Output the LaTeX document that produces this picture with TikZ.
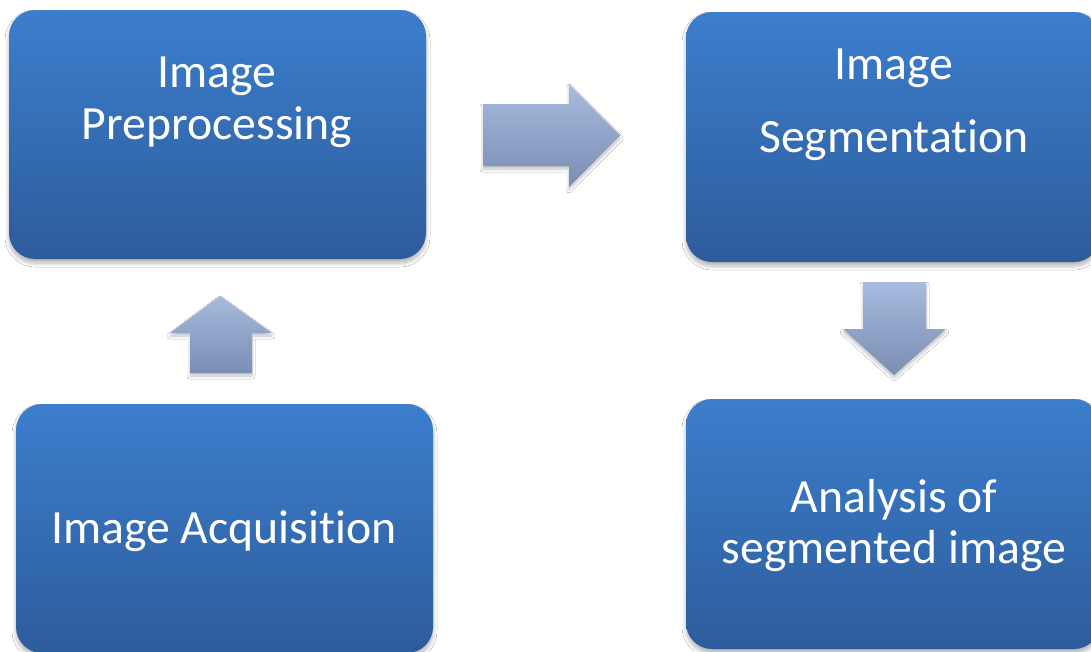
\documentclass[tikz,border=0pt]{standalone}
\usepackage{fontspec}
\setmainfont{Carlito}[Ligatures={NoCommon,NoContextual,NoRare}, Contextuals=NoAlternate]
\usetikzlibrary{shadows.blur}
\definecolor{boxtop}{HTML}{3C7ECD}
\definecolor{boxbot}{HTML}{2D5C9B}
\definecolor{arrtop}{HTML}{A6BBDE}
\definecolor{arrbot}{HTML}{7A8DB3}
\tikzset{
  stagebox/.style={rectangle, rounded corners=26pt, top color=boxtop, bottom color=boxbot,
    draw=none, inner sep=0pt,
    blur shadow={shadow xshift=0pt, shadow yshift=-4pt, shadow blur steps=8, shadow blur radius=4pt, shadow opacity=30}},
  stagetext/.style={text=white, font=\fontsize{47.7}{52}\selectfont, anchor=base, inner sep=0pt},
  blockarrow/.style={top color=arrtop, bottom color=arrbot, draw=none,
    blur shadow={shadow xshift=0pt, shadow yshift=-3pt, shadow blur steps=6, shadow blur radius=3pt, shadow opacity=25}}
}
\begin{document}
\begin{tikzpicture}[x=1pt,y=-1pt]
\useasboundingbox (0,0) rectangle (1091,651);
\fill[white] (0,0) rectangle (1091,651);
\clip (0,0) rectangle (1091,651);
% boxes
\node[stagebox, minimum width=417pt, minimum height=249pt] (pre) at (217.5,134.5) {};
\node[stagebox, minimum width=414pt, minimum height=250pt] (seg) at (893,137) {};
\node[stagebox, minimum width=417pt, minimum height=249pt] (acq) at (224.5,528.5) {};
\node[stagebox, minimum width=414pt, minimum height=250pt] (ana) at (893,524) {};
% texts
\node[stagetext] (preA) at (217,87) {Image};
\node[stagetext] (preB) at (217,139) {Preprocessing};
\node[stagetext] (segA) at (894,79) {Image};
\node[stagetext] (segB) at (894,152) {Segmentation};
\node[stagetext] (acqA) at (224,543) {Image Acquisition};
\node[stagetext] (anaA) at (894,512) {Analysis of};
\node[stagetext] (anaB) at (894,563) {segmented image};
% block arrows
\path[blockarrow] (483,104) -- (569,104) -- (569,84) -- (620,135.5) -- (569,187) -- (569,166) -- (483,166) -- cycle;
\path[blockarrow] (190,373) -- (190,333) -- (170,333) -- (220,296) -- (272,333) -- (252,333) -- (252,373) -- cycle;
\path[blockarrow] (863,282) -- (926,282) -- (926,329) -- (946,329) -- (894,375) -- (843,329) -- (863,329) -- cycle;
\end{tikzpicture}
\end{document}
